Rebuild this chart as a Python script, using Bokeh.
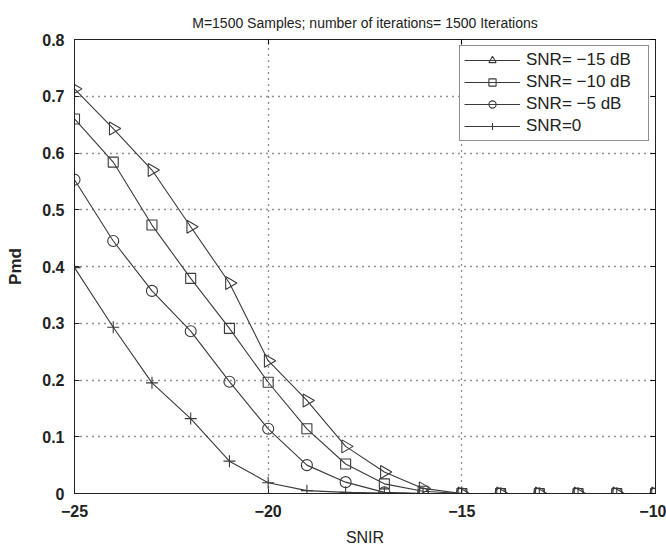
import math
from bokeh.plotting import figure
from bokeh.models import FixedTicker, LinearAxis, Range1d, Legend, LegendItem
from bokeh.embed import file_html
from bokeh.resources import INLINE

snir = [-25, -24, -23, -22, -21, -20, -19, -18, -17, -16, -15, -14, -13, -12, -11, -10]
pmd_m15 = [0.713, 0.643, 0.570, 0.470, 0.371, 0.234, 0.164, 0.083, 0.038, 0.009, 0, 0, 0, 0, 0, 0]
pmd_m10 = [0.660, 0.584, 0.473, 0.379, 0.291, 0.196, 0.114, 0.052, 0.017, 0.004, 0, 0, 0, 0, 0, 0]
pmd_m5 = [0.553, 0.445, 0.357, 0.286, 0.197, 0.114, 0.050, 0.020, 0.002, 0, 0, 0, 0, 0, 0, 0]
pmd_0 = [0.398, 0.293, 0.195, 0.132, 0.057, 0.019, 0.005, 0.002, 0.001, 0, 0, 0, 0, 0, 0, 0]

series_labels = ["SNR= \u221215 dB", "SNR= \u221210 dB", "SNR= \u22125 dB", "SNR=0"]
x_ticks = [-25, -20, -15, -10]
x_tick_labels = ["\u221225", "\u221220", "\u221215", "\u221210"]
y_ticks = [0, 0.1, 0.2, 0.3, 0.4, 0.5, 0.6, 0.7, 0.8]
y_tick_labels = ["0", "0.1", "0.2", "0.3", "0.4", "0.5", "0.6", "0.7", "0.8"]
title_text = "M=1500 Samples; number of iterations= 1500 Iterations"
x_label = "SNIR"
y_label = "Pmd"

FONT = "Liberation Sans"
LINE = "#3a3a3a"

p = figure(width=666, height=550, output_backend="svg", toolbar_location=None,
           x_range=Range1d(-25, -10), y_range=Range1d(0, 0.8),
           min_border_left=74, min_border_right=11, min_border_top=39, min_border_bottom=57)
p.title.text = title_text
p.title.align = "center"
p.title.text_font = FONT
p.title.text_font_size = "14px"
p.title.text_font_style = "normal"
p.title.text_color = "#222222"
p.title.offset = 0
p.title.standoff = 18

p.outline_line_color = "#222222"
p.outline_line_width = 1

for ax in (p.xaxis[0], p.yaxis[0]):
    ax.major_tick_in = 5
    ax.major_tick_out = 0
    ax.minor_tick_line_color = None
    ax.axis_line_color = "#222222"
    ax.major_tick_line_color = "#222222"
    ax.major_label_text_font = FONT
    ax.major_label_text_font_size = "16px"
    ax.major_label_text_font_style = "bold"
    ax.major_label_text_color = "#222222"
    ax.axis_label_text_font = FONT
    ax.axis_label_text_color = "#222222"

p.xaxis[0].ticker = FixedTicker(ticks=x_ticks)
p.xaxis[0].major_label_overrides = dict(zip(x_ticks, x_tick_labels))
p.xaxis[0].major_label_standoff = 11
p.xaxis[0].axis_label = x_label
p.xaxis[0].axis_label_text_font_size = "16px"
p.xaxis[0].axis_label_text_font_style = "normal"
p.xaxis[0].axis_label_standoff = 9

p.yaxis[0].ticker = FixedTicker(ticks=y_ticks)
p.yaxis[0].major_label_overrides = dict(zip(y_ticks, y_tick_labels))
p.yaxis[0].major_label_standoff = 10
p.yaxis[0].axis_label = y_label
p.yaxis[0].axis_label_text_font_size = "17px"
p.yaxis[0].axis_label_text_font_style = "bold"
p.yaxis[0].axis_label_standoff = 14

# box ticks on top/right
top = LinearAxis(ticker=FixedTicker(ticks=x_ticks), major_label_text_font_size="0px",
                 major_tick_in=5, major_tick_out=0, minor_tick_line_color=None,
                 axis_line_color="#222222", major_label_standoff=0)
right = LinearAxis(ticker=FixedTicker(ticks=y_ticks), major_label_text_font_size="0px",
                   major_tick_in=5, major_tick_out=0, minor_tick_line_color=None,
                   axis_line_color="#222222", major_label_standoff=0)
p.add_layout(top, "above")
p.add_layout(right, "right")

p.xgrid.ticker = FixedTicker(ticks=x_ticks)
p.ygrid.ticker = FixedTicker(ticks=y_ticks)
for g in (p.xgrid[0], p.ygrid[0]):
    g.grid_line_color = "#222222"
    g.grid_line_dash = "1 5"
    g.grid_line_width = 1.3

items = []
specs = [
    (pmd_m15, "triangle", 13, -math.pi / 2),
    (pmd_m10, "square", 10, 0),
    (pmd_m5, "circle", 11, 0),
    (pmd_0, "cross", 12, 0),
]
for (vals, marker, size, ang), lab in zip(specs, series_labels):
    r1 = p.line(snir, vals, line_color=LINE, line_width=1.1)
    r2 = p.scatter(snir, vals, marker=marker, size=size, angle=ang,
                   fill_color=None, line_color=LINE, line_width=1.1)
    items.append(LegendItem(label=lab, renderers=[r1, r2]))

legend = Legend(items=items, location="top_right")
legend.label_text_font = FONT
legend.label_text_font_size = "17px"
legend.label_text_color = "#222222"
legend.glyph_width = 56
legend.glyph_height = 18
legend.label_height = 18
legend.label_width = 118
legend.label_standoff = 6
legend.spacing = 2
legend.padding = 4
legend.margin = 6
legend.border_line_color = "#222222"
legend.border_line_width = 1
legend.background_fill_alpha = 1
p.add_layout(legend, "center")

open("out.html", "w").write(file_html(p, INLINE))
